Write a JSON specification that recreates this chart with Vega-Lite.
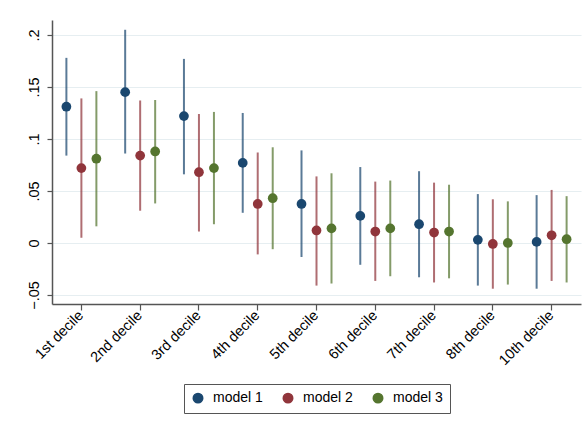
{
  "$schema": "https://vega.github.io/schema/vega-lite/v6.json",
  "autosize": {"type": "none"},
  "width": 529,
  "height": 284,
  "padding": {"left": 52, "top": 20, "right": 3, "bottom": 126},
  "background": "white",
  "config": {
    "view": {"stroke": null},
    "font": "Liberation Sans",
    "axis": {"labelFont": "Liberation Sans", "labelFontSize": 14.5, "labelColor": "#000000", "domainColor": "#555555", "tickColor": "#555555", "domainWidth": 1.5, "tickWidth": 1.2}
  },
  "data": {
    "values": [
      {"decile": "1st decile", "model": "model 1", "est": 0.131, "lo": 0.084, "hi": 0.178},
      {"decile": "2nd decile", "model": "model 1", "est": 0.145, "lo": 0.086, "hi": 0.205},
      {"decile": "3rd decile", "model": "model 1", "est": 0.122, "lo": 0.066, "hi": 0.177},
      {"decile": "4th decile", "model": "model 1", "est": 0.077, "lo": 0.029, "hi": 0.125},
      {"decile": "5th decile", "model": "model 1", "est": 0.0375, "lo": -0.0135, "hi": 0.089},
      {"decile": "6th decile", "model": "model 1", "est": 0.026, "lo": -0.021, "hi": 0.073},
      {"decile": "7th decile", "model": "model 1", "est": 0.018, "lo": -0.033, "hi": 0.069},
      {"decile": "8th decile", "model": "model 1", "est": 0.003, "lo": -0.041, "hi": 0.047},
      {"decile": "10th decile", "model": "model 1", "est": 0.001, "lo": -0.044, "hi": 0.046},
      {"decile": "1st decile", "model": "model 2", "est": 0.072, "lo": 0.005, "hi": 0.139},
      {"decile": "2nd decile", "model": "model 2", "est": 0.084, "lo": 0.031, "hi": 0.137},
      {"decile": "3rd decile", "model": "model 2", "est": 0.068, "lo": 0.011, "hi": 0.124},
      {"decile": "4th decile", "model": "model 2", "est": 0.0375, "lo": -0.011, "hi": 0.087},
      {"decile": "5th decile", "model": "model 2", "est": 0.012, "lo": -0.041, "hi": 0.064},
      {"decile": "6th decile", "model": "model 2", "est": 0.011, "lo": -0.0365, "hi": 0.059},
      {"decile": "7th decile", "model": "model 2", "est": 0.010, "lo": -0.038, "hi": 0.058},
      {"decile": "8th decile", "model": "model 2", "est": -0.001, "lo": -0.044, "hi": 0.042},
      {"decile": "10th decile", "model": "model 2", "est": 0.0074, "lo": -0.0365, "hi": 0.051},
      {"decile": "1st decile", "model": "model 3", "est": 0.081, "lo": 0.016, "hi": 0.146},
      {"decile": "2nd decile", "model": "model 3", "est": 0.088, "lo": 0.038, "hi": 0.1375},
      {"decile": "3rd decile", "model": "model 3", "est": 0.072, "lo": 0.018, "hi": 0.126},
      {"decile": "4th decile", "model": "model 3", "est": 0.043, "lo": -0.006, "hi": 0.092},
      {"decile": "5th decile", "model": "model 3", "est": 0.014, "lo": -0.039, "hi": 0.067},
      {"decile": "6th decile", "model": "model 3", "est": 0.014, "lo": -0.032, "hi": 0.060},
      {"decile": "7th decile", "model": "model 3", "est": 0.011, "lo": -0.034, "hi": 0.056},
      {"decile": "8th decile", "model": "model 3", "est": 0.0, "lo": -0.040, "hi": 0.040},
      {"decile": "10th decile", "model": "model 3", "est": 0.0036, "lo": -0.038, "hi": 0.045}
    ]
  },
  "encoding": {
    "x": {
      "field": "decile", "type": "nominal",
      "sort": ["1st decile", "2nd decile", "3rd decile", "4th decile", "5th decile", "6th decile", "7th decile", "8th decile", "10th decile"],
      "scale": {"paddingInner": 0, "paddingOuter": 0},
      "axis": {"title": null, "labelAngle": -45, "labelAlign": "right", "labelBaseline": "middle", "tickSize": 6, "labelPadding": 3, "grid": false}
    },
    "xOffset": {
      "field": "model", "type": "nominal",
      "scale": {"type": "point", "padding": 0.96}
    },
    "color": {
      "field": "model", "type": "nominal",
      "scale": {"domain": ["model 1", "model 2", "model 3"], "range": ["#1a476f", "#90353b", "#55752f"]},
      "legend": {
        "title": null, "orient": "none", "legendX": 132, "legendY": 364, "direction": "horizontal", "columns": 3,
        "symbolType": "circle", "symbolSize": 90, "symbolOpacity": 1, "labelFontSize": 14, "labelFont": "Liberation Sans", "labelColor": "#000000",
        "columnPadding": 17, "padding": 7, "strokeColor": "#555555", "fillColor": "white", "labelOffset": 8
      }
    }
  },
  "layer": [
    {
      "mark": {"type": "rule", "strokeWidth": 2, "opacity": 0.72},
      "encoding": {
        "y": {
          "field": "lo", "type": "quantitative",
          "scale": {"domain": [-0.0587, 0.2144], "nice": false, "zero": false},
          "axis": {
            "title": null, "values": [-0.05, 0, 0.05, 0.1, 0.15, 0.2],
            "labelExpr": "datum.value == 0 ? '0' : replace(format(datum.value, '.2~f'), '0.', '.')",
            "labelAngle": -90, "labelAlign": "center", "labelBaseline": "bottom", "labelPadding": 6,
            "tickSize": 5, "grid": true, "gridColor": "#e6eef1", "gridWidth": 1.2
          }
        },
        "y2": {"field": "hi"}
      }
    },
    {
      "mark": {"type": "point", "filled": true, "size": 95, "opacity": 1, "shape": "circle"},
      "encoding": {
        "y": {"field": "est", "type": "quantitative"}
      }
    }
  ]
}
